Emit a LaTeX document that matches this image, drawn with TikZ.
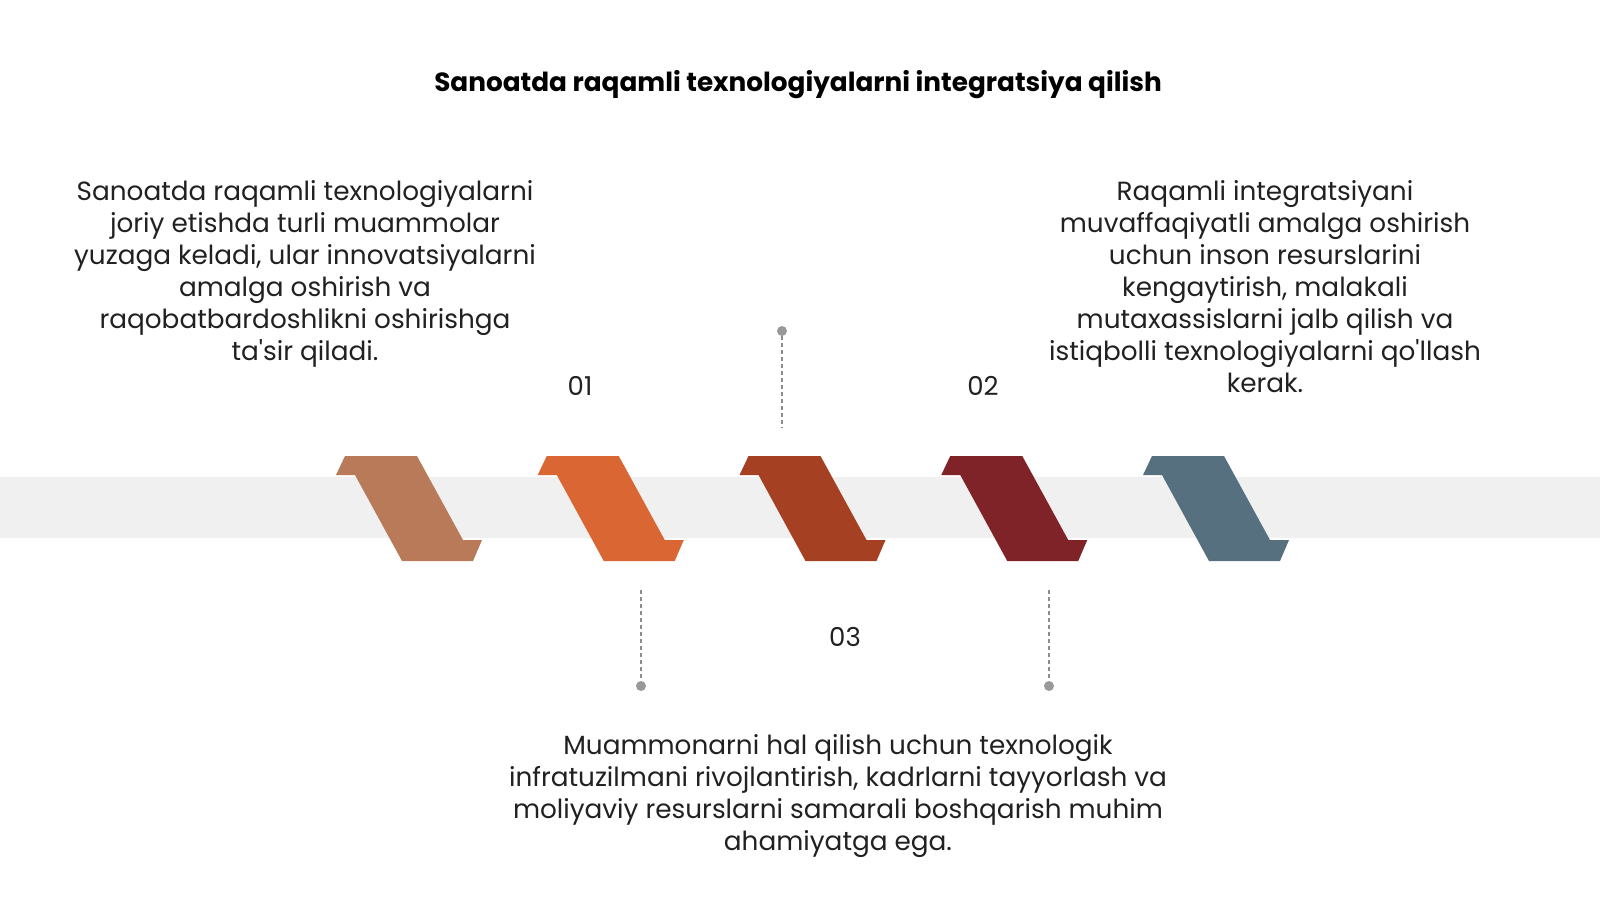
\documentclass[tikz,border=0pt]{standalone}
\usepackage{fontspec}
\setmainfont{Poppins}[Ligatures=TeXOff]
\begin{document}
\begin{tikzpicture}[x=1pt,y=-1pt,
  body/.style={inner sep=0pt, align=center, text=black!87, font=\fontsize{26.3}{32}\selectfont},
  numlbl/.style={inner sep=0pt, text=black!87, font=\fontsize{26}{30}\selectfont},
  dot/.style={circle, fill=black!40, inner sep=0pt, minimum size=10pt},
  leader/.style={draw=black!45, dashed, dash pattern=on 4pt off 3pt, line width=1.2pt}]
\definecolor{c1}{RGB}{185,122,90}
\definecolor{c2}{RGB}{218,102,52}
\definecolor{c3}{RGB}{165,64,35}
\definecolor{c4}{RGB}{128,35,40}
\definecolor{c5}{RGB}{86,112,128}
\definecolor{band}{RGB}{240,240,240}
\useasboundingbox (0,0) rectangle (1600,900);
\fill[white] (0,0) rectangle (1600,900);
% band
\fill[band] (0,477) rectangle (1600,538);
% chevrons
\foreach \i/\c in {0/c1,1/c2,2/c3,3/c4,4/c5}{
  \pgfmathsetmacro{\L}{336+201.75*\i}
  \fill[\c] (\L+9,456) -- (\L+81,456) -- (\L+127,540) -- (\L+146,540) -- (\L+137,561) -- (\L+66,561) -- (\L+19,475) -- (\L,475) -- cycle;
}
% title
\node[inner sep=0pt, font=\fontsize{26.3}{30}\selectfont\bfseries] (title) at (798,85) {Sanoatda raqamli texnologiyalarni integratsiya qilish};
% text blocks
\node[body, anchor=north] (t1) at (305,180) {Sanoatda raqamli texnologiyalarni\\joriy etishda turli muammolar\\yuzaga keladi, ular innovatsiyalarni\\amalga oshirish va\\raqobatbardoshlikni oshirishga\\ta'sir qiladi.};
\node[body, anchor=north] (t2) at (1265,180) {Raqamli integratsiyani\\muvaffaqiyatli amalga oshirish\\uchun inson resurslarini\\kengaytirish, malakali\\mutaxassislarni jalb qilish va\\istiqbolli texnologiyalarni qo'llash\\kerak.};
\node[body, anchor=north] (t3) at (838,734) {Muammonarni hal qilish uchun texnologik\\infratuzilmani rivojlantirish, kadrlarni tayyorlash va\\moliyaviy resurslarni samarali boshqarish muhim\\ahamiyatga ega.};
% numbers
\node[numlbl] (n1) at (580,386) {01};
\node[numlbl] (n2) at (983,386) {02};
\node[numlbl] (n3) at (845,637) {03};
% leaders
\node[dot] (d1) at (782,331) {};
\coordinate (e1) at (782,428);
\draw[leader] (d1) -- (e1);
\node[dot] (d2) at (641,686) {};
\coordinate (e2) at (641,590);
\draw[leader] (e2) -- (d2);
\node[dot] (d3) at (1049,686) {};
\coordinate (e3) at (1049,590);
\draw[leader] (e3) -- (d3);
\end{tikzpicture}
\end{document}
